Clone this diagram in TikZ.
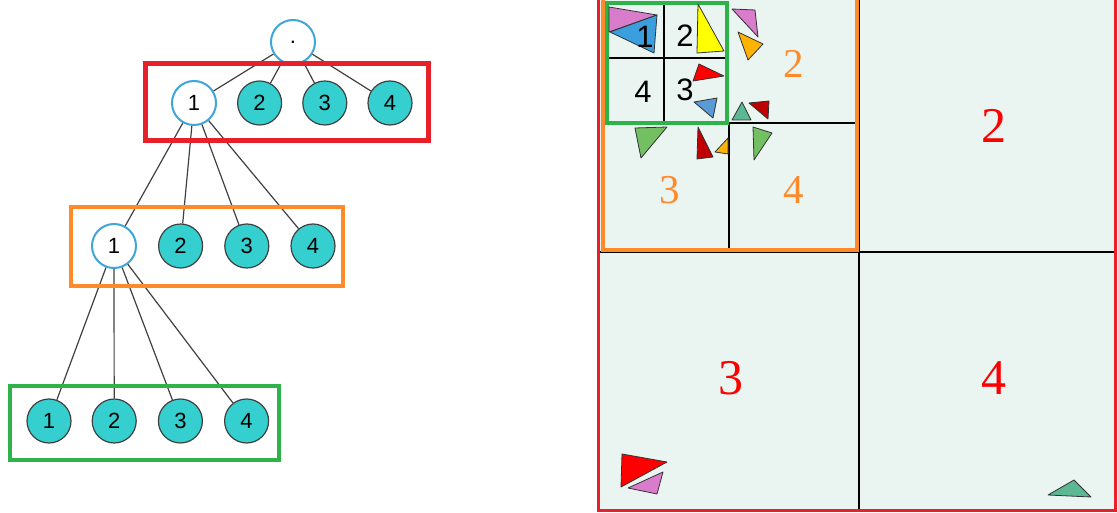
\documentclass[tikz,border=0pt]{standalone}
\usepackage{fontspec}
\setmainfont{Liberation Sans}
\newfontfamily\serifdigits{Liberation Serif}
\usepackage{xcolor}
\definecolor{leafcyan}{HTML}{36CFCF}
\definecolor{ringblue}{HTML}{3EA6D8}
\definecolor{lvlred}{HTML}{E8202A}
\definecolor{lvlorange}{HTML}{FF8A2A}
\definecolor{lvlgreen}{HTML}{2DB34A}
\definecolor{cellbg}{HTML}{EAF5F2}
\definecolor{tpink}{HTML}{D97CCC}
\definecolor{tblue}{HTML}{3A9FDC}
\definecolor{tlblue}{HTML}{5B9BD5}
\definecolor{tyellow}{HTML}{FFFF00}
\definecolor{torange}{HTML}{FFB300}
\definecolor{tred}{HTML}{FF0000}
\definecolor{tdred}{HTML}{C00000}
\definecolor{tteal}{HTML}{5CB892}
\definecolor{tgreen}{HTML}{72C062}
\usepackage{tikz}
\usetikzlibrary{
  positioning,
  calc
}

\begin{document}
\begin{tikzpicture}[
  x=1pt, y=-1pt,
  open/.style={circle, draw=ringblue, fill=white, line width=2pt, minimum size=44pt, inner sep=0pt, font=\fontsize{22}{26}\selectfont},
  leaf/.style={circle, draw=black!75, fill=leafcyan, line width=1.2pt, minimum size=44pt, inner sep=0pt, font=\fontsize{22}{26}\selectfont},
  link/.style={draw=black!75, line width=1.2pt},
  lvl/.style={line width=#1},
  grid/.style={draw=black, line width=2.6pt},
  cellnum/.style={font=\fontsize{31}{34}\selectfont, inner sep=0pt},
  onum/.style={font=\serifdigits\fontsize{41}{44}\selectfont, text=lvlorange, inner sep=0pt},
  rnum/.style={font=\serifdigits\fontsize{50}{54}\selectfont, text=tred, inner sep=0pt},
  tri/.style={draw=black!80, line width=0.8pt, line join=round},
]
\useasboundingbox (0,0) rectangle (1117,513);

% Tree
\node[open] (root) at (293,42) {.};

\node[open] (a1) at (194,103) {1};
\node[leaf, right=20pt of a1] (a2) {2};
\node[leaf, right=20pt of a2] (a3) {3};
\node[leaf, right=20pt of a3] (a4) {4};

\node[open] (b1) at (114,246) {1};
\node[leaf, right=21pt of b1] (b2) {2};
\node[leaf, right=21pt of b2] (b3) {3};
\node[leaf, right=21pt of b3] (b4) {4};

\node[leaf] (c1) at (49,421) {1};
\node[leaf, right=20pt of c1] (c2) {2};
\node[leaf, right=21pt of c2] (c3) {3};
\node[leaf, right=21pt of c3] (c4) {4};

\foreach \k in {1,2,3,4} {
  \draw[link] (root) -- (a\k);
  \draw[link] (a1) -- (b\k);
  \draw[link] (b1) -- (c\k);
}

% Level frames
\draw[lvlred, lvl=5pt] (145,64) rectangle (428,141);
\draw[lvlorange, lvl=4.5pt] (71,207) rectangle (343,286);
\draw[lvlgreen, lvl=4.5pt] (10,386) rectangle (279,460);

% Quadtree
\fill[cellbg] (600,0) rectangle (1115,510);
\draw[grid] (859,0) -- (859,510);
\draw[grid] (600,252) -- (1115,252);
\draw[grid] (729,123) -- (729,250);
\draw[grid] (729,123) -- (857,123);
\draw[grid] (664,3) -- (664,121);
\draw[grid] (607,58) -- (726,58);
\draw[lvlred, lvl=3pt] (598.5,-5) -- (598.5,510.5) -- (1115.5,510.5) -- (1115.5,-5);
\draw[lvlorange, lvl=4pt] (603,-5) -- (603,250) -- (857,250) -- (857,-5);
\draw[lvlgreen, lvl=4.5pt] (607,3) rectangle (727,123);

% Triangles
\filldraw[tri, fill=tpink] (609,7) -- (657,15) -- (609,32) -- cycle;
\filldraw[tri, fill=tblue] (610,32) -- (657,15) -- (654,53) -- cycle;
\filldraw[tri, fill=tyellow] (698,4) -- (724,51) -- (697,53) -- cycle;
\filldraw[tri, fill=tpink] (732,9) -- (755,10) -- (758,37) -- cycle;
\filldraw[tri, fill=torange] (738,32) -- (763,44) -- (748,60) -- cycle;
\filldraw[tri, fill=tred] (699,64) -- (724,76) -- (693,81) -- cycle;
\filldraw[tri, fill=tlblue] (694,102) -- (717,98) -- (713,118) -- cycle;
\filldraw[tri, fill=tteal] (732,120) -- (742,102) -- (751,120) -- cycle;
\filldraw[tri, fill=tdred] (749,103) -- (769,101) -- (768,119) -- cycle;
\filldraw[tri, fill=tgreen] (635,128) -- (667,127) -- (641,158) -- cycle;
\filldraw[tri, fill=tdred] (698,127) -- (713,157) -- (697,159) -- cycle;
\filldraw[tri, fill=torange] (715,152) -- (728,138) -- (728,154) -- cycle;
\filldraw[tri, fill=tgreen] (753,127) -- (772,133) -- (754,160) -- cycle;
\filldraw[tri, fill=tred] (622,454) -- (667,462) -- (621,487) -- cycle;
\filldraw[tri, fill=tpink] (628,488) -- (663,472) -- (657,494) -- cycle;
\filldraw[tri, fill=tteal] (1048,495) -- (1074,480) -- (1091,497) -- cycle;

% Cell labels
\node[cellnum] (g1) at (645,37) {1};
\node[cellnum] (g2) at (685,36) {2};
\node[cellnum] (g4) at (643,92) {4};
\node[cellnum] (g3) at (685,90) {3};

\node[onum] (o2) at (794,64) {2};
\node[onum] (o3) at (670,190) {3};
\node[onum] (o4) at (794,190) {4};

\node[rnum] (r2) at (994,126) {2};
\node[rnum] (r3) at (731,378) {3};
\node[rnum] (r4) at (994,378) {4};

\end{tikzpicture}
\end{document}
